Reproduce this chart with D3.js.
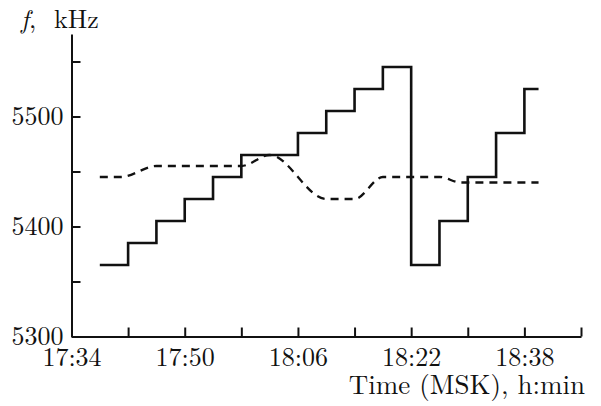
<!DOCTYPE html>
<html lang="en">
<head>
<meta charset="UTF-8">
<title>Frequency vs time</title>
<script src="https://cdnjs.cloudflare.com/ajax/libs/d3/7.8.5/d3.min.js"></script>
<style>
  body { margin: 0; background: #fff; }
  .axis path, .axis line { stroke: #111; stroke-width: 2px; }
</style>
</head>
<body>
<div id="chart"></div>
<script>
// step curve (solid)
const stepTimes = ["17:38","17:42","17:46","17:50","17:54","17:58","18:06","18:10","18:14","18:18","18:22","18:26","18:30","18:34","18:38","18:40"];
const stepFreq  = [5365, 5385, 5405, 5425, 5445, 5465, 5485, 5505, 5525, 5545, 5365, 5405, 5445, 5485, 5525, 5525];

// smooth curve (dashed)
const dashTimes = ["17:38","17:41","17:46","17:58","18:02","18:10","18:14","18:18","18:26","18:29","18:40"];
const dashFreq  = [5445, 5445, 5455, 5455, 5465, 5425, 5425, 5445, 5445, 5440, 5440];

const xTicks = ["17:34","17:42","17:50","17:58","18:06","18:14","18:22","18:30","18:38","18:46"];
const xTickLabels = ["17:34","17:50","18:06","18:22","18:38"];
const yTicks = [5300, 5350, 5400, 5450, 5500, 5550];
const yTickLabels = [5300, 5400, 5500];

const width = 601, height = 406;
const serif = '"Latin Modern Roman", "Liberation Serif", serif';
const parse = d3.timeParse("%H:%M");
const fmt = d3.timeFormat("%H:%M");

const svg = d3.select("#chart").append("svg")
    .attr("width", width)
    .attr("height", height);

const x = d3.scaleTime()
    .domain([parse("17:34"), parse("18:46")])
    .range([71.5, 581]);

const y = d3.scaleLinear()
    .domain([5300, 5575])
    .range([336.5, 34]);

// axes
const xAxis = d3.axisBottom(x)
    .tickValues(xTicks.map(parse))
    .tickSizeInner(-9)
    .tickSizeOuter(0)
    .tickPadding(12)
    .tickFormat(d => xTickLabels.includes(fmt(d)) ? fmt(d) : "");

svg.append("g")
    .attr("class", "axis")
    .attr("transform", `translate(0,${y(5300)})`)
    .call(xAxis)
    .call(g => g.selectAll("text")
        .style("font-family", serif).style("font-size", "26px")
        .attr("fill", "#111").attr("dy", "0.68em"));

const yAxis = d3.axisLeft(y)
    .tickValues(yTicks)
    .tickSizeInner(-9)
    .tickSizeOuter(0)
    .tickPadding(8)
    .tickFormat(d => yTickLabels.includes(d) ? d : "");

svg.append("g")
    .attr("class", "axis")
    .attr("transform", `translate(${x(parse("17:34"))},0)`)
    .call(yAxis)
    .call(g => g.selectAll("text")
        .style("font-family", serif).style("font-size", "26px")
        .attr("fill", "#111").attr("dy", "0.32em"));

// curves
const stepData = stepTimes.map((t, i) => ({ t: parse(t), f: stepFreq[i] }));
const dashData = dashTimes.map((t, i) => ({ t: parse(t), f: dashFreq[i] }));

svg.append("path")
    .datum(dashData)
    .attr("fill", "none")
    .attr("stroke", "#111")
    .attr("stroke-width", 2.3)
    .attr("stroke-dasharray", "8,6")
    .attr("d", d3.line().x(d => x(d.t)).y(d => y(d.f)).curve(d3.curveMonotoneX));

svg.append("path")
    .datum(stepData)
    .attr("fill", "none")
    .attr("stroke", "#111")
    .attr("stroke-width", 2.6)
    .attr("stroke-linejoin", "miter")
    .attr("d", d3.line().x(d => x(d.t)).y(d => y(d.f)).curve(d3.curveStepAfter));

// labels
const yLab = svg.append("text")
    .attr("x", 21)
    .attr("y", 28)
    .attr("fill", "#111")
    .style("font-family", serif)
    .style("font-size", "26px");
yLab.append("tspan").style("font-style", "italic").text("f");
yLab.append("tspan").text(",");
yLab.append("tspan").attr("x", 54).text("kHz");

svg.append("text")
    .attr("x", 585)
    .attr("y", 394)
    .attr("text-anchor", "end")
    .attr("fill", "#111")
    .style("font-family", serif)
    .style("font-size", "27px")
    .text("Time (MSK), h:min");
</script>
</body>
</html>
